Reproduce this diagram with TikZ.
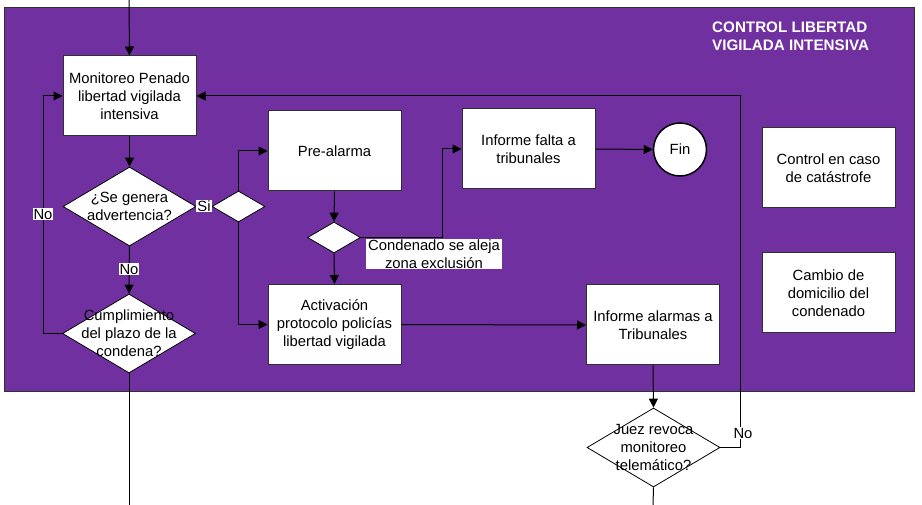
\documentclass[tikz,border=0pt]{standalone}
\usepackage{fontspec}
\setmainfont{Liberation Sans}
\usetikzlibrary{arrows.meta,shapes.geometric}
\definecolor{bgpurple}{HTML}{7030A0}
\definecolor{edgegray}{HTML}{303030}
\begin{document}
\begin{tikzpicture}[x=1pt,y=-1pt,
  every node/.style={font=\fontsize{14.8}{17.8}\selectfont},
  box/.style={draw=edgegray,fill=white,line width=1pt,minimum width=133pt,minimum height=80pt,align=center,inner sep=0pt},
  dia/.style={draw=black,fill=white,line width=0.8pt,shape=diamond,minimum width=133pt,minimum height=79pt,inner sep=0pt,aspect=1.68},
  smalldia/.style={draw=black,fill=white,line width=0.8pt,shape=diamond,minimum width=53pt,minimum height=31pt,inner sep=0pt,aspect=1.7},
  txt/.style={align=center,inner sep=0pt},
  lbl/.style={fill=white,inner sep=1pt,align=center},
  arr/.style={line width=1pt,-{Triangle[length=9pt,width=9pt]}},
  ln/.style={line width=1pt}]
\useasboundingbox (0,0) rectangle (922,505);
\fill[white] (0,0) rectangle (922,505);
\draw[fill=bgpurple,draw=edgegray,line width=1pt] (4,8) rectangle (914,391);
\node[anchor=west,align=left,text=white,inner sep=0pt,font=\fontsize{15.2}{18.3}\selectfont\bfseries] (title) at (712,36) {CONTROL LIBERTAD\\VIGILADA INTENSIVA};

\coordinate (top) at (129,0);
\coordinate (botL) at (129,505);
\coordinate (botR) at (653,505);
\coordinate (xL) at (43,0);
\coordinate (xR) at (740,0);
\coordinate (xM) at (442,0);

\node[box] (mon) at (129.5,96) {Monitoreo Penado\\libertad vigilada\\intensiva};
\node[box] (pre) at (334.5,151) {Pre-alarma};
\node[box] (act) at (334.5,324.5) {Activación\\protocolo policías\\libertad vigilada};
\node[box] (inf) at (528.5,149) {Informe falta a\\tribunales};
\node[box] (ia) at (653,325) {Informe alarmas a\\Tribunales};
\node[box] (cat) at (828.5,168) {Control en caso\\de catástrofe};
\node[box] (cam) at (828.5,293) {Cambio de\\domicilio del\\condenado};
\node[circle,draw=black,fill=white,line width=1.5pt,minimum size=53pt,inner sep=0pt] (fin) at (680,149.5) {Fin};

\node[dia] (d1) at (129.5,206.5) {};
\node[txt] (d1t) at (d1) {¿Se genera\\advertencia?};
\node[dia] (cum) at (129,333.5) {};
\node[smalldia] (sd) at (238.5,206.5) {};
\node[smalldia] (d2) at (334,237.5) {};
\node[dia] (juez) at (653.5,447.5) {};

% connectors
\draw[arr] (top) -- (mon.north);
\draw[arr] (mon.south) -- (d1.north);
\draw[ln] (d1.east) -- (sd.west);
\node[lbl] (si) at (204,206) {Si};
\draw[arr] (sd.north) |- (pre.west);
\draw[arr] (sd.south) |- (act.west);
\draw[arr] (pre.south) -- (d2.north);
\draw[arr] (d2.south) -- (act.north);
\draw[arr] (d2.east) -| (xM |- inf.west) -- (inf.west);
\node[lbl,inner xsep=2pt] (cond) at (434,254) {Condenado se aleja\\zona exclusión};
\draw[arr] (inf.east) -- (fin.west);
\draw[arr] (act.east) -- (ia.west);
\draw[arr] (ia.south) -- (juez.north);
\draw[ln] (juez.south) -- (botR);
\draw[arr] (juez.east) -| (xR |- mon.east) -- (mon.east);
\node[lbl] (no3) at (743,433) {No};
\draw[arr] (d1.south) -- (cum.north);
\node[lbl] (no1) at (129,269) {No};
\draw[arr] (cum.west) -| (xL |- mon.west) -- (mon.west);
\node[lbl] (no2) at (43,214) {No};
\draw[ln] (cum.south) -- (botL);

\node[txt] (cumt) at (cum) {Cumplimiento\\del plazo de la\\condena?};
\node[txt] (juezt) at (juez) {Juez revoca\\monitoreo\\telemático?};
\end{tikzpicture}
\end{document}
